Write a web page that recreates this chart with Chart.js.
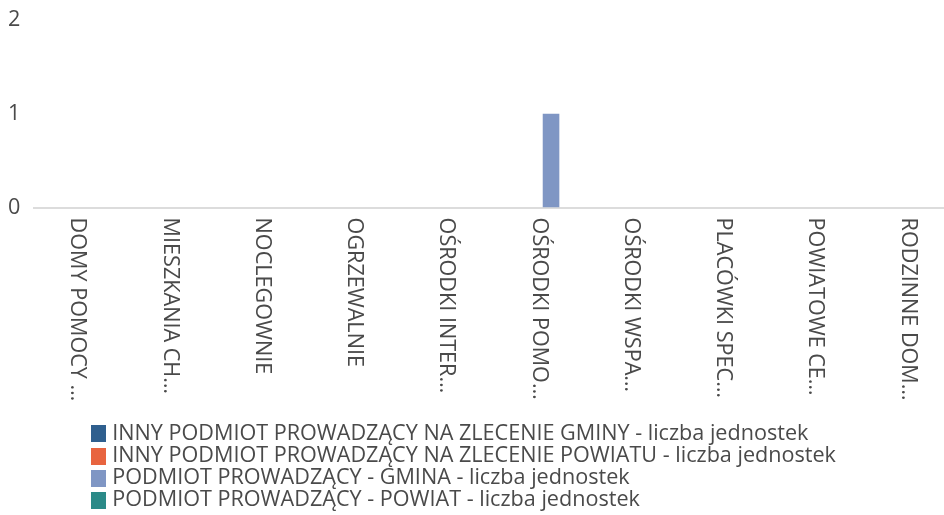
<!DOCTYPE html>
<html>
<head>
<meta charset="utf-8">
<script src="https://cdn.jsdelivr.net/npm/chart.js@4"></script>
<style>
  html, body { margin: 0; padding: 0; background: #fff; }
  #wrap { width: 944px; height: 515px; }
</style>
</head>
<body>
<div id="wrap"><canvas id="myChart"></canvas></div>
<script>
var kategorie = [
    'DOMY POMOCY …',
    'MIESZKANIA CH…',
    'NOCLEGOWNIE',
    'OGRZEWALNIE',
    'OŚRODKI INTER…',
    'OŚRODKI POMO…',
    'OŚRODKI WSPA…',
    'PLACÓWKI SPEC…',
    'POWIATOWE CE…',
    'RODZINNE DOM…'
];
var inny_gmina   = [0, 0, 0, 0, 0, 0, 0, 0, 0, 0];
var inny_powiat  = [0, 0, 0, 0, 0, 0, 0, 0, 0, 0];
var gmina        = [0, 0, 0, 0, 0, 1, 0, 0, 0, 0];
var powiat       = [0, 0, 0, 0, 0, 0, 0, 0, 0, 0];
var y_ticks = [0, 1, 2];
var kolory = ['#2f5f8e', '#e8643f', '#7f96c4', '#2b8a88'];

var FONT = "'Open Sans', sans-serif";
var ROZMIAR = 21.6;
var szary = '#4a4a4a';

// kwadraty do legendy
var kwadrat = function (kolor) {
    var c = document.createElement('canvas');
    c.width = 19;
    c.height = 17;
    var g = c.getContext('2d');
    g.fillStyle = kolor;
    g.fillRect(0, 0, 19, 17);
    return c;
};

// etykiety osi X pisane pionowo, od gory do dolu
var pionoweEtykiety = {
    id: 'pionoweEtykiety',
    afterDraw: function (chart) {
        var ctx = chart.ctx;
        var x = chart.scales.x;
        ctx.save();
        ctx.font = ROZMIAR + 'px ' + FONT;
        ctx.fillStyle = szary;
        ctx.textAlign = 'left';
        ctx.textBaseline = 'middle';
        chart.data.labels.forEach(function (lbl, i) {
            var px = x.getPixelForTick(i) - 3;
            ctx.save();
            ctx.translate(px, x.top + 10);
            ctx.rotate(Math.PI / 2);
            ctx.fillText(lbl, 0, 0);
            ctx.restore();
        });
        ctx.restore();
    }
};

// os X wychodzi troche za prawa krawedz, legenda przesunieta
var poprawUklad = {
    id: 'poprawUklad',
    afterLayout: function (chart) {
        var x = chart.scales.x;
        x.right += 13;
        x.width += 13;
        x.configure();
        chart.legend.left = 91;
        chart.legend.top += 6;
        chart.legend.bottom += 6;
    }
};

var ctx = document.getElementById('myChart').getContext('2d');
var myChart = new Chart(ctx, {
    type: 'bar',
    data: {
        labels: kategorie,
        datasets: [
            { label: 'INNY PODMIOT PROWADZĄCY NA ZLECENIE GMINY - liczba jednostek', data: inny_gmina, backgroundColor: kolory[0] },
            { label: 'INNY PODMIOT PROWADZĄCY NA ZLECENIE POWIATU - liczba jednostek', data: inny_powiat, backgroundColor: kolory[1] },
            { label: 'PODMIOT PROWADZĄCY - GMINA - liczba jednostek', data: gmina, backgroundColor: kolory[2] },
            { label: 'PODMIOT PROWADZĄCY - POWIAT - liczba jednostek', data: powiat, backgroundColor: kolory[3] }
        ]
    },
    options: {
        responsive: true,
        maintainAspectRatio: false,
        animation: false,
        layout: { padding: { top: 20, right: 0, bottom: 0, left: 2 } },
        plugins: {
            tooltip: { enabled: false },
            legend: {
                position: 'bottom',
                align: 'start',
                labels: {
                    usePointStyle: true,
                    pointStyleWidth: 10,
                    boxHeight: 17,
                    padding: 0.5,
                    color: szary,
                    font: { family: FONT, size: ROZMIAR },
                    generateLabels: function (chart) {
                        var items = Chart.defaults.plugins.legend.labels.generateLabels(chart);
                        items.forEach(function (it, i) { it.pointStyle = kwadrat(kolory[i]); });
                        return items;
                    }
                }
            }
        },
        scales: {
            x: {
                grid: { display: false, drawTicks: false },
                border: { display: true, color: '#dcdcdc', width: 2 },
                ticks: { display: false },
                afterFit: function (scale) { scale.height = 209; }
            },
            y: {
                min: 0,
                max: 2,
                afterBuildTicks: function (scale) {
                    scale.ticks = y_ticks.map(function (v) { return { value: v }; });
                },
                grid: { display: false },
                border: { display: false },
                ticks: {
                    color: szary,
                    padding: 6,
                    font: { family: FONT, size: ROZMIAR }
                }
            }
        }
    },
    plugins: [pionoweEtykiety, poprawUklad]
});
</script>
</body>
</html>
